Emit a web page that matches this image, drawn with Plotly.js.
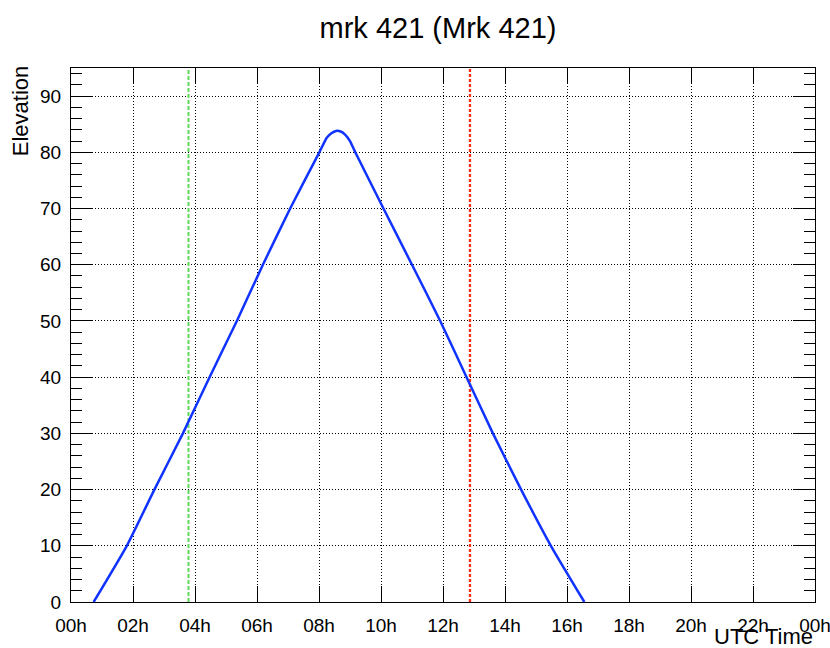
<!DOCTYPE html>
<html>
<head>
<meta charset="utf-8">
<script src="https://cdn.plot.ly/plotly-3.0.1.min.js"></script>
<style>
  html, body { margin: 0; padding: 0; background: #ffffff; }
  #chart { width: 830px; height: 648px; }
</style>
</head>
<body>
<div id="chart"></div>
<script>
// Elevation track of Mrk 421 over one UTC day (hours, degrees)
const utcHours = [0.73, 1.80, 2.69, 3.61, 4.47, 5.35, 6.19, 7.07, 8.01, 8.25, 8.40, 8.55, 8.70, 8.85, 9.00, 9.17, 10.08, 11.00, 11.91, 12.76, 13.61, 14.52, 15.48, 16.56];
const elevation = [0, 10, 20, 30, 40, 50, 60, 70, 80, 82.6, 83.4, 83.8, 83.7, 83.1, 82.0, 80, 70, 60, 50, 40, 30, 20, 10, 0];

// Time markers
const greenMarkerTime = [3.79, 3.79];
const redMarkerTime = [12.87, 12.87];
const markerSpan = [0, 95];

// Hour tick labels
const hourTicks = [0, 2, 4, 6, 8, 10, 12, 14, 16, 18, 20, 22, 24];
const hourLabels = ["00h", "02h", "04h", "06h", "08h", "10h", "12h", "14h", "16h", "18h", "20h", "22h", "00h"];

const FONT = "Liberation Sans, Arial, Helvetica, sans-serif";

const traces = [
  {
    x: greenMarkerTime, y: markerSpan, mode: "lines", hoverinfo: "skip",
    line: { color: "#5fd85a", width: 2, dash: "4px,2px" }
  },
  {
    x: redMarkerTime, y: markerSpan, mode: "lines", hoverinfo: "skip",
    line: { color: "#ff2a12", width: 2.3, dash: "3px,2px" }
  },
  {
    x: utcHours, y: elevation, mode: "lines",
    line: { color: "#1133ff", width: 2.5, shape: "spline", smoothing: 0.5 }
  }
];

const layout = {
  width: 830, height: 648,
  margin: { l: 71, r: 15, t: 68, b: 46 },
  paper_bgcolor: "#ffffff", plot_bgcolor: "#ffffff",
  showlegend: false,
  font: { family: FONT, color: "#000000" },
  title: {
    text: "mrk 421 (Mrk 421)",
    font: { family: FONT, size: 29, color: "#000000" },
    xref: "container", x: 438 / 830, xanchor: "center",
    yref: "container", y: 1 - 28 / 648, yanchor: "middle"
  },
  xaxis: {
    range: [0, 24], fixedrange: true,
    tickmode: "array", tickvals: hourTicks, ticktext: hourLabels,
    ticks: "inside", ticklen: 16, tickwidth: 1, tickcolor: "#000000",
    showline: true, linecolor: "#000000", linewidth: 1, mirror: "ticks",
    showgrid: true, gridcolor: "#000000", gridwidth: 1, griddash: "1px,2px",
    zeroline: false,
    tickfont: { family: FONT, size: 19, color: "#000000" },
    ticklabelstandoff: 6,
    ticklabeloverflow: "allow"
  },
  yaxis: {
    range: [0, 95], fixedrange: true,
    tickmode: "linear", tick0: 0, dtick: 10,
    ticks: "inside", ticklen: 22, tickwidth: 1, tickcolor: "#000000",
    minor: { dtick: 2, ticks: "inside", ticklen: 11, tickwidth: 1, tickcolor: "#000000", showgrid: false },
    showline: true, linecolor: "#000000", linewidth: 1, mirror: "ticks",
    showgrid: true, gridcolor: "#000000", gridwidth: 1, griddash: "1px,2px",
    zeroline: false,
    tickfont: { family: FONT, size: 19, color: "#000000" },
    ticklabelstandoff: 5
  },
  annotations: [
    {
      text: "Elevation", textangle: -90, showarrow: false,
      xref: "paper", yref: "paper",
      x: (20 - 71) / 744, xanchor: "center",
      y: (602.3 - 111) / 534.6, yanchor: "middle",
      font: { family: FONT, size: 22, color: "#000000" }
    },
    {
      text: "UTC Time", showarrow: false,
      xref: "paper", yref: "paper",
      x: 1, xanchor: "right",
      y: (602.3 - 637) / 534.6, yanchor: "middle",
      font: { family: FONT, size: 22, color: "#000000" }
    }
  ]
};

Plotly.newPlot("chart", traces, layout, { displayModeBar: false, staticPlot: true });
</script>
</body>
</html>
